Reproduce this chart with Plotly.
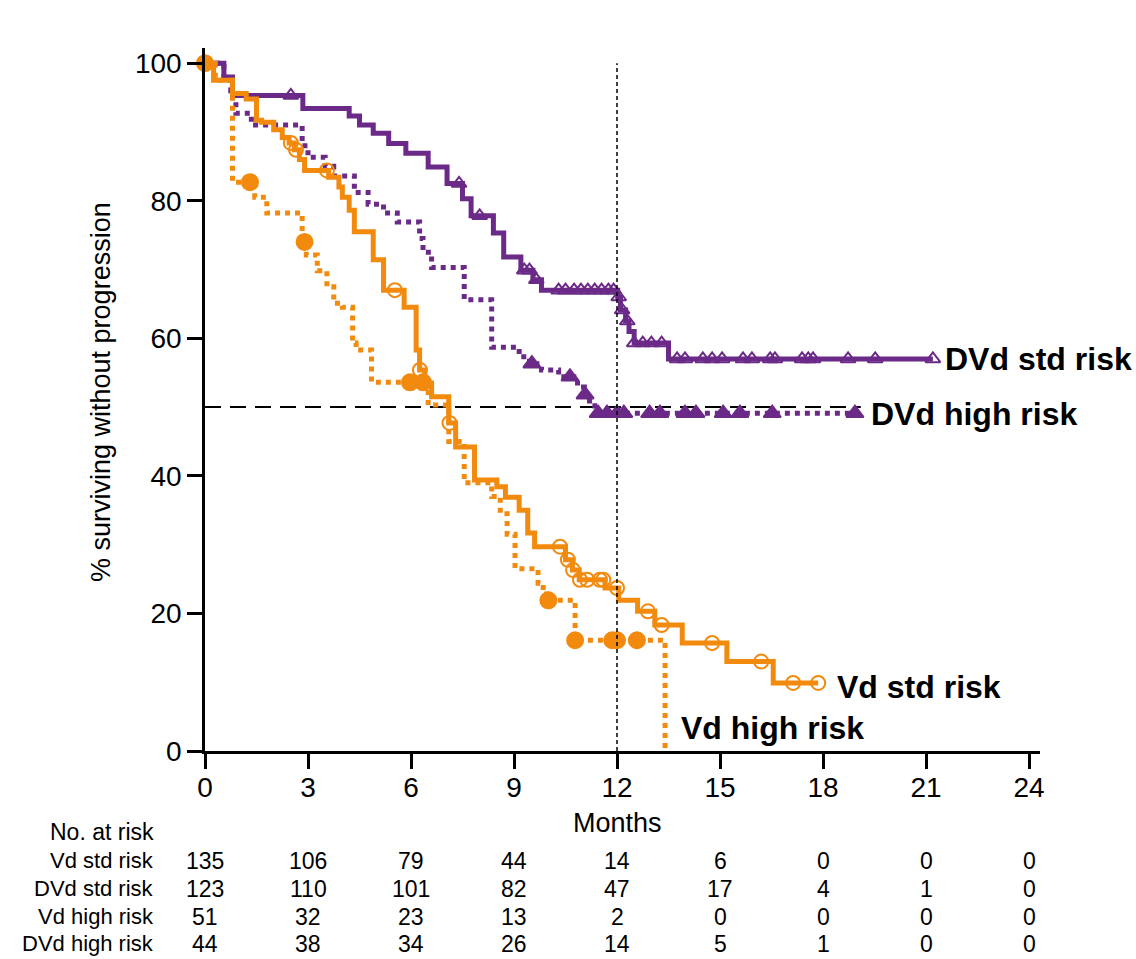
import numpy as np
import plotly.graph_objects as go

# ---------------- data ----------------
# DVd standard risk (solid purple)
dvd_std_t = [0, 0.55, 0.8, 2.85, 4.2, 4.5, 4.9, 5.35, 5.85, 6.5, 7.05, 7.5, 7.75, 8.4, 8.7, 9.2, 9.55, 9.8,
             12.02, 12.1, 12.25, 12.35, 12.5, 13.5]
dvd_std_s = [100, 98, 95.3, 93.4, 92.3, 91, 89.8, 88.3, 86.9, 84.9, 82.5, 80.3, 77.8, 75.3, 71.8, 69.9, 68.5, 67.0,
             66.0, 64.1, 62.5, 61.0, 59.3, 57.0]
dvd_std_end = 21.2
dvd_std_cens = [2.5, 7.4, 8.0, 9.3, 9.45, 9.65, 10.3, 10.5, 10.75, 10.95, 11.15, 11.35, 11.55, 11.75, 11.9,
                12.05, 12.15, 12.3, 12.5, 12.75, 13.0, 13.3, 13.75, 13.98, 14.5, 14.77, 15.06, 15.67, 15.93,
                16.46, 16.6, 17.39, 17.57, 17.71, 18.73, 19.52, 21.2]

# DVd high risk (dotted purple)
dvd_high_t = [0, 0.55, 0.75, 0.9, 1.35, 2.83, 3.0, 3.5, 3.75, 4.35, 4.75, 5.2, 5.6, 6.25, 6.35, 6.6, 7.55, 8.35,
              9.15, 9.45, 9.8, 10.3, 10.85, 11.05, 11.2, 11.35]
dvd_high_s = [100, 97.5, 96, 92.7, 91.0, 88.0, 86.3, 85.0, 83.6, 81.2, 79.5, 78.2, 76.9, 74.5, 72.5, 70.3, 65.6, 58.7,
              57.3, 56.3, 55.4, 54.4, 52.9, 51.8, 50.2, 49.1]
dvd_high_end = 18.93
dvd_high_cens = [9.52, 10.63, 11.07, 11.45, 11.71, 12.0, 12.2, 12.95, 13.25, 13.98, 14.3, 15.09, 15.58, 16.52, 18.93]

# Vd standard risk (solid orange)
vd_std_t = [0, 0.25, 0.8, 1.2, 1.5, 1.65, 2.0, 2.25, 2.45, 2.6, 2.75, 2.9, 3.6, 3.9, 4.0, 4.2, 4.35, 4.9, 5.2,
            5.8, 6.15, 6.25, 6.4, 6.6, 7.1, 7.3, 7.85, 8.5, 8.75, 9.15, 9.4, 9.6, 10.5, 10.7, 10.9, 11.65,
            12.05, 12.6, 13.1, 13.9, 15.2, 16.55]
vd_std_s = [100, 97.5, 95.6, 94.8, 91.7, 91.4, 90.3, 89.2, 88.4, 87.4, 86.0, 84.4, 83.4, 82.0, 80.5, 78.6, 75.5,
            71.4, 67.0, 64.5, 58.3, 55.4, 53.5, 51.5, 47.7, 44.2, 39.4, 38.4, 36.9, 35.0, 31.7, 29.7, 27.8, 26.3,
            24.9, 23.7, 21.9, 20.3, 18.3, 15.7, 13.0, 9.9]
vd_std_end = 17.86
vd_std_cens = [2.5, 2.65, 3.55, 5.53, 6.26, 7.12, 10.34, 10.57, 10.72, 10.92, 11.13, 11.5, 11.6, 12.0, 12.9, 13.3,
               14.77, 16.2, 17.13, 17.86]

# Vd high risk (dotted orange)
vd_high_t = [0, 0.3, 0.8, 1.45, 1.8, 2.83, 2.95, 3.27, 3.55, 3.75, 4.0, 4.3, 4.4, 4.85, 6.5, 7.1, 7.55, 8.35, 8.6,
             8.8, 9.03, 9.7, 9.85, 9.95, 10.78, 13.4]
vd_high_s = [100, 97.5, 82.7, 80.5, 78.2, 74.0, 72.1, 69.8, 67.5, 65.1, 64.5, 59.3, 58.3, 53.6, 50.3, 45.0, 39.0,
             37.0, 34.5, 31.5, 26.5, 24.4, 23.4, 21.9, 16.1, 0]
vd_high_end = 13.4
vd_high_cens = [0.0, 1.31, 2.9, 5.97, 6.35, 10.0, 10.78, 11.86, 12.0, 12.58]

# number at risk table
risk_months = [0, 3, 6, 9, 12, 15, 18, 21, 24]
risk_labels = ["Vd std risk", "DVd std risk", "Vd high risk", "DVd high risk"]
risk_vd_std = [135, 106, 79, 44, 14, 6, 0, 0, 0]
risk_dvd_std = [123, 110, 101, 82, 47, 17, 4, 1, 0]
risk_vd_high = [51, 32, 23, 13, 2, 0, 0, 0, 0]
risk_dvd_high = [44, 38, 34, 26, 14, 5, 1, 0, 0]

x_ticks = [0, 3, 6, 9, 12, 15, 18, 21, 24]
y_ticks = [0, 20, 40, 60, 80, 100]

# ---------------- styles ----------------
PURPLE = "#6B2A88"
ORANGE = "#F28A0E"
FONT = "Arial, Liberation Sans, sans-serif"


def step_value(times, surv, t):
    idx = np.searchsorted(np.asarray(times), t, side="right") - 1
    return np.asarray(surv)[idx]


fig = go.Figure()


def add_curve(times, surv, end, cens, color, dash, symbol, msize, name):
    xs = list(times)
    ys = list(surv)
    if end > xs[-1]:
        xs.append(end)
        ys.append(ys[-1])
    fig.add_trace(go.Scatter(x=xs, y=ys, mode="lines", line=dict(color=color, width=5, dash=dash, shape="hv"),
                             name=name, showlegend=False, hoverinfo="skip", cliponaxis=False))
    cy = [float(step_value(times, surv, c)) for c in cens]
    fig.add_trace(go.Scatter(x=cens, y=cy, mode="markers",
                             marker=dict(symbol=symbol, size=msize, color=color,
                                         line=dict(color=color, width=2)),
                             showlegend=False, hoverinfo="skip", cliponaxis=False))


add_curve(dvd_high_t, dvd_high_s, dvd_high_end, dvd_high_cens, PURPLE, "dot", "triangle-up", 15, "DVd high risk")
add_curve(dvd_std_t, dvd_std_s, dvd_std_end, dvd_std_cens, PURPLE, "solid", "triangle-up-open", 13, "DVd std risk")
add_curve(vd_high_t, vd_high_s, vd_high_end, vd_high_cens, ORANGE, "dot", "circle", 16, "Vd high risk")
add_curve(vd_std_t, vd_std_s, vd_std_end, vd_std_cens, ORANGE, "solid", "circle-open", 14, "Vd std risk")

# reference lines
fig.add_shape(type="line", xref="x", yref="y", x0=0, x1=19.1, y0=50, y1=50,
              line=dict(color="black", width=2, dash="16px,9px"), layer="below")
fig.add_shape(type="line", xref="x", yref="y", x0=12, x1=12, y0=0, y1=100,
              line=dict(color="black", width=1.5, dash="4px,3px"), layer="above")

# curve labels
labels = [("DVd std risk", 21.5, 57.0), ("DVd high risk", 19.35, 49.0),
          ("Vd std risk", 18.35, 9.3), ("Vd high risk", 13.82, 3.4)]
for txt, lx, ly in labels:
    fig.add_annotation(x=lx, y=ly, xref="x", yref="y", text="<b>%s</b>" % txt, showarrow=False,
                       xanchor="left", yanchor="middle", font=dict(family=FONT, size=32, color="black"))

# plot geometry helpers (pixels -> paper)
PLOT_TOP, PLOT_BOTTOM, PLOT_LEFT, PLOT_RIGHT = 48, 751, 205, 1040


def py(p):
    return (PLOT_BOTTOM - p) / (PLOT_BOTTOM - PLOT_TOP)


def px(p):
    return (p - PLOT_LEFT) / (PLOT_RIGHT - PLOT_LEFT)


# axis titles
fig.add_annotation(x=12, y=py(823), xref="x", yref="paper", text="Months", showarrow=False,
                   xanchor="center", yanchor="middle", font=dict(family=FONT, size=27, color="black"))
fig.add_annotation(x=px(101), y=py(392), xref="paper", yref="paper", text="% surviving without progression",
                   showarrow=False, textangle=-90, xanchor="center", yanchor="middle",
                   font=dict(family=FONT, size=27, color="black"))

# number at risk table
fig.add_annotation(x=px(156), y=py(832), xref="paper", yref="paper", text="No. at risk", showarrow=False,
                   xanchor="right", yanchor="middle", font=dict(family=FONT, size=23, color="black"))
rows = [risk_vd_std, risk_dvd_std, risk_vd_high, risk_dvd_high]
row_y = [860, 888, 916, 943]
for lab, vals, ry in zip(risk_labels, rows, row_y):
    fig.add_annotation(x=px(156), y=py(ry), xref="paper", yref="paper", text=lab, showarrow=False,
                       xanchor="right", yanchor="middle", font=dict(family=FONT, size=22, color="black"))
    for m, v in zip(risk_months, vals):
        fig.add_annotation(x=m, y=py(ry + 1), xref="x", yref="paper", text=str(v), showarrow=False,
                           xanchor="center", yanchor="middle", font=dict(family=FONT, size=23, color="black"))

fig.update_layout(
    width=1136, height=959,
    margin=dict(l=PLOT_LEFT, r=1136 - PLOT_RIGHT, t=PLOT_TOP, b=959 - PLOT_BOTTOM, pad=0),
    paper_bgcolor="white", plot_bgcolor="white",
    font=dict(family=FONT, color="black"),
    showlegend=False,
)
fig.update_xaxes(range=[0, 24.32], tickvals=x_ticks, ticktext=[str(t) for t in x_ticks],
                 showline=True, linecolor="black", linewidth=2.5, ticks="outside", ticklen=15, tickwidth=2.5,
                 tickcolor="black", showgrid=False, zeroline=False, tickfont=dict(size=28, family=FONT),
                 ticklabelstandoff=-5)
fig.update_yaxes(range=[0, 102.2], tickvals=y_ticks, ticktext=[str(t) for t in y_ticks],
                 showline=True, linecolor="black", linewidth=2.5, ticks="outside", ticklen=15, tickwidth=2.5,
                 tickcolor="black", showgrid=False, zeroline=False, tickfont=dict(size=28, family=FONT))

fig.write_html("out.html")
